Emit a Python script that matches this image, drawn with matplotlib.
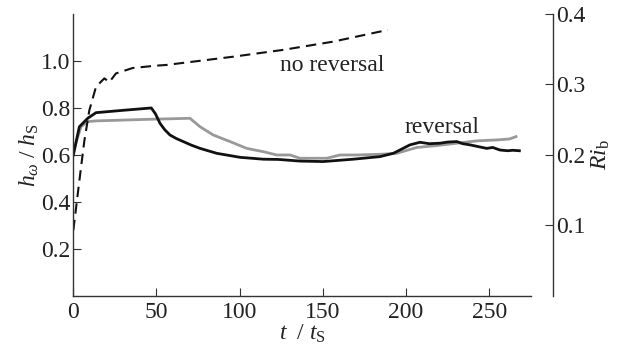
import numpy as np
import matplotlib
matplotlib.use('Agg')
import matplotlib.pyplot as plt

plt.rcParams['font.family'] = ['Liberation Serif', 'DejaVu Serif']
plt.rcParams['mathtext.fontset'] = 'custom'
plt.rcParams['mathtext.rm'] = 'Liberation Serif'
plt.rcParams['mathtext.it'] = 'Liberation Serif:italic'
plt.rcParams['font.size'] = 17

# no reversal (dashed)
t_norev = [0.2, 3.8, 6.8, 9.8, 13.8, 18.8, 21.8, 25.8, 35.8, 49.8, 56, 96, 126, 156, 189]
h_norev = [0.28, 0.49, 0.66, 0.79, 0.89, 0.926, 0.91, 0.947, 0.97, 0.98, 0.983,
           1.018, 1.047, 1.082, 1.132]

# reversal, black curve
t_black = [0.2, 3.8, 8.8, 13.8, 30, 47, 49.5, 52.2, 55, 58.2, 62, 66.2, 71, 76.3,
           86.3, 100.3, 114.3, 123.3, 136.3, 150.3, 168.3, 184.3, 192.3, 194.3, 202.3,
           208.3, 214, 220.3, 225, 230.4, 234, 238.4, 243, 248.4, 252, 256.4, 261, 264,
           268]
h_black = [0.60, 0.72, 0.756, 0.78, 0.79, 0.80, 0.775, 0.735, 0.708, 0.685, 0.670,
           0.657, 0.642, 0.628, 0.607, 0.59, 0.582, 0.581, 0.574, 0.572, 0.582, 0.593,
           0.607, 0.614, 0.643, 0.654, 0.648, 0.65, 0.655, 0.657, 0.648, 0.643, 0.636,
           0.628, 0.632, 0.621, 0.618, 0.62, 0.618]

# reversal, grey curve
t_grey = [0.3, 4.8, 8.8, 13.8, 46.8, 70.2, 76.3, 84.2, 94.3, 104.3, 114.3, 122.3,
          130.3, 136.3, 152.3, 160.3, 170.3, 184.3, 194.3, 206.4, 218.4, 230.4, 242.4,
          254.4, 262, 266]
h_grey = [0.62, 0.72, 0.742, 0.745, 0.752, 0.756, 0.72, 0.685, 0.657, 0.628, 0.614,
          0.60, 0.60, 0.586, 0.586, 0.60, 0.60, 0.603, 0.607, 0.632, 0.64, 0.65, 0.66,
          0.664, 0.668, 0.678]

left_ticks = [0.2, 0.4, 0.6, 0.8, 1.0]
right_ticks = [0.1, 0.2, 0.3, 0.4]
x_ticks = [0, 50, 100, 150, 200, 250]

fig = plt.figure(figsize=(6.3, 3.57), dpi=100)
ax = fig.add_axes([0.1159, 0.1709, 0.727, 0.790])
ax2 = ax.twinx()

ax.plot(t_grey, h_grey, color='#999999', lw=2.0)
ax.plot(t_black, h_black, color='#111111', lw=2.0)
ax.plot(t_norev, h_norev, color='#111111', lw=1.5, dashes=(5, 3))

ax.text(124.3, 0.979, 'no reversal', ha='left', va='center', color='#222222')
ax.text(199.3, 0.715, 'reversal', ha='left', va='center', color='#222222')

ax.set_xlim(0, 275)
ax.set_ylim(0, 1.2)
ax.set_xticks(x_ticks)
ax.set_yticks(left_ticks)
ax.set_yticklabels([f'{v:.1f}' for v in left_ticks])
ax2.set_ylim(0, 0.4)
ax2.set_yticks(right_ticks)
ax2.set_yticklabels([f'{v:.1f}' for v in right_ticks])

for s in ['top', 'right']:
    ax.spines[s].set_visible(False)
for s in ['top', 'left', 'bottom']:
    ax2.spines[s].set_visible(False)
ax2.spines['right'].set_position(('axes', 1.048))

for a in (ax, ax2):
    for s in a.spines.values():
        s.set_linewidth(1.0)
        s.set_color('#333333')

ax.tick_params(axis='both', direction='in', length=6, width=0.8, color='#333333',
               labelcolor='#222222')
ax.tick_params(axis='y', pad=2)
ax.tick_params(axis='x', pad=4)
ax2.tick_params(axis='y', direction='in', length=6, width=0.8, color='#333333',
                labelcolor='#222222', pad=2)

ax.set_xlabel(r'$t\ \ /\ t_{\mathrm{S}}$', color='#222222')
ax.xaxis.set_label_coords(0.5, -0.095)
ax.set_ylabel(r'$h_{\omega}\ /\ h_{\mathrm{S}}$', color='#222222')
ax.yaxis.set_label_coords(-0.07, 0.5)
ax2.set_ylabel(r'$Ri_{\mathrm{b}}$', color='#222222')
ax2.yaxis.set_label_coords(1.128, 0.5)

fig.savefig('out.png', dpi=100)
